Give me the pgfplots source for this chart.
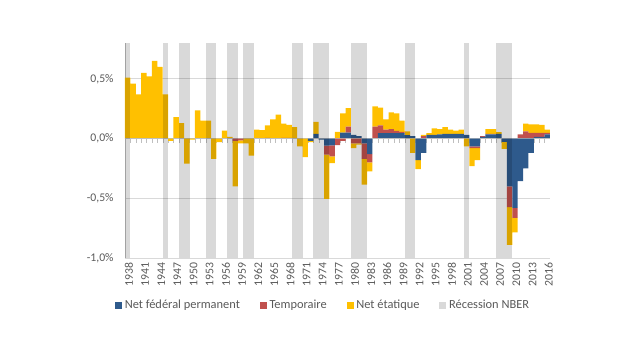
\documentclass[border=0pt]{standalone}
\usepackage{fontspec}
\setmainfont{Carlito}
\usepackage{pgfplots}
\usepackage{pgfplotstable}
\pgfplotsset{compat=1.18}
\definecolor{cblue}{HTML}{2E5A8C}
\definecolor{cred}{HTML}{C0504D}
\definecolor{cyel}{HTML}{FFC000}
\definecolor{ctext}{HTML}{595959}
\definecolor{cgrid}{HTML}{D9D9D9}
\definecolor{caxis}{HTML}{BFBFBF}

% year, positive parts (blue, red, yellow), negative parts (blue, red, yellow)
\pgfplotstableread{
year bp rp yp bn rn yn
1938 0 0 0.51 0 0 0
1939 0 0 0.46 0 0 0
1940 0 0 0.37 0 0 0
1941 0 0 0.55 0 0 0
1942 0 0 0.52 0 0 0
1943 0 0 0.65 0 0 0
1944 0 0 0.60 0 0 0
1945 0 0 0.37 0 0 0
1946 0 0 0 0 0 -0.02
1947 0 0 0.18 0 0 0
1948 0 0 0.13 0 0 0
1949 0 0 0 0 0 -0.21
1950 0 0 0 0 0 -0.01
1951 0 0 0.235 0 0 0
1952 0 0 0.15 0 0 0
1953 0 0 0.15 0 0 0
1954 0 0 0 0 0 -0.17
1955 0 0 0 0 0 -0.03
1956 0 0 0.067 0 0 0
1957 0 0 0.015 0 0 0
1958 0 0 0 0 -0.02 -0.38
1959 0 0 0 0 -0.015 -0.025
1960 0 0 0 0 0 -0.04
1961 0 0 0 0 0 -0.143
1962 0 0 0.075 0 0 0
1963 0 0 0.07 0 0 0
1964 0 0.005 0.105 0 0 0
1965 0 0 0.16 0 0 0
1966 0 0 0.20 0 0 0
1967 0 0.005 0.12 0 0 0
1968 0 0.005 0.11 0 0 0
1969 0 0 0.095 0 0 0
1970 0 0 0 0 0 -0.065
1971 0 0 0 0 0 -0.155
1972 0 0 0 -0.02 0 -0.01
1973 0.04 0 0.10 0 0 0
1974 0 0 0 -0.01 0 0
1975 0 0 0 -0.06 -0.075 -0.37
1976 0 0 0 -0.057 -0.093 -0.055
1977 0 0 0.055 0 -0.055 0
1978 0.05 0 0.16 0 -0.02 0
1979 0.05 0.05 0.155 0 0 0
1980 0.03 0 0 0 -0.04 -0.04
1981 0.02 0 0 0 -0.04 -0.01
1982 0 0 0 -0.04 -0.13 -0.215
1983 0 0 0 -0.13 -0.07 -0.075
1984 0 0.10 0.17 0 0 0
1985 0.045 0.065 0.15 0 0 0
1986 0.045 0.03 0.085 0 0 0
1987 0.045 0.035 0.14 0 0 0
1988 0.045 0.02 0.145 0 0 0
1989 0.045 0.01 0.095 0 0 0
1990 0.028 0 0.032 0 0 0
1991 0.02 0 0 0 0 -0.12
1992 0 0 0 -0.18 0 -0.075
1993 0 0.02 0.01 -0.12 0 0
1994 0.03 0 0.015 0 0 0
1995 0.03 0 0.055 0 0 0
1996 0.034 0 0.046 0 0 0
1997 0.04 0 0.055 0 0 0
1998 0.04 0 0.035 0 0 0
1999 0.04 0 0.027 0 0 0
2000 0.04 0 0.035 0 0 0
2001 0.03 0 0 0 0 -0.065
2002 0 0 0 -0.065 -0.015 -0.15
2003 0 0 0 -0.065 -0.015 -0.10
2004 0.015 0.005 0 0 0 0
2005 0.035 0.005 0.04 0 0 0
2006 0.035 0.005 0.04 0 0 0
2007 0.04 0 0.013 0 0 0
2008 0 0 0 -0.028 0 -0.058
2009 0 0 0 -0.40 -0.175 -0.315
2010 0 0 0 -0.58 -0.085 -0.12
2011 0 0.035 0 -0.357 0 0
2012 0 0.06 0.066 -0.25 0 0
2013 0 0.048 0.07 -0.12 0 0
2014 0.015 0.033 0.07 0 0 0
2015 0.015 0.033 0.067 0 0 0
2016 0.034 0.013 0.028 0 0 0
}\data

\begin{document}
\begin{tikzpicture}[font=\fontsize{8.8}{10}\selectfont, text=ctext]
\pgfplotsset{
  base/.style={scale only axis, width=318.75pt, height=161.25pt,
    xmin=1937.5, xmax=2016.5, ymin=-1, ymax=0.8},
  rec/.style={fill=black, fill opacity=0.15, draw=none, mark=none},
}
% axis 1: grid, labels, positive stack, legend
\begin{axis}[base, name=main,
  ybar stacked, bar width=1,
  axis lines*=left,
  axis line style={-, draw=caxis},
  x axis line style={draw=cgrid},
  ymajorgrids, grid style={draw=cgrid, line width=0.6pt},
  ytick={-1,-0.5,0,0.5},
  yticklabels={{-1,0\%},{-0,5\%},{0,0\%},{0,5\%}},
  ytick style={draw=none},
  yticklabel style={xshift=-5pt, text=ctext},
  xtick={1938,1941,...,2016},
  xticklabels={1938,1941,1944,1947,1950,1953,1956,1959,1962,1965,1968,1971,1974,1977,1980,1983,1986,1989,1992,1995,1998,2001,2004,2007,2010,2013,2016},
  xtick style={draw=none},
  xticklabel style={rotate=90, anchor=east, text=ctext, yshift=-1pt},
  legend columns=4,
  legend style={at={(0.467,-0.219)}, anchor=center, draw=none, fill=none,
    font=\fontsize{9.3}{10}\selectfont, text=ctext,
    /tikz/every even column/.append style={column sep=13pt}},
  legend image code/.code={\fill[#1] (0pt,-2.6pt) rectangle (5.2pt,2.6pt);},
]
\addplot[fill=cblue, draw=none] table[x=year, y=bp] {\data};
\addlegendentry{Net fédéral permanent}
\addplot[fill=cred, draw=none] table[x=year, y=rp] {\data};
\addlegendentry{Temporaire}
\addplot[fill=cyel, draw=none] table[x=year, y=yp] {\data};
\addlegendentry{Net étatique}
\addlegendimage{fill=cgrid, draw=none}
\addlegendentry{Récession NBER}
\end{axis}

% axis 2: negative stack, zero line and year ticks
\begin{axis}[base,
  ybar stacked, bar width=1,
  axis x line=middle, axis y line=none,
  x axis line style={-, draw=caxis, line width=0.6pt},
  xtick={1938.5,1939.5,...,2015.5},
  xticklabels={},
  tick align=center,
  major tick length=3pt,
  xtick style={draw=caxis, yshift=-1.5pt},
]
\addplot[fill=cblue, draw=none] table[x=year, y=bn] {\data};
\addplot[fill=cred, draw=none] table[x=year, y=rn] {\data};
\addplot[fill=cyel, draw=none] table[x=year, y=yn] {\data};
\end{axis}

% axis 3: NBER recessions overlay
\begin{axis}[base, hide axis]
\addplot[rec] coordinates {(1937.5,-1) (1937.5,0.8) (1938.5,0.8) (1938.5,-1)} -- cycle;
\addplot[rec] coordinates {(1944.5,-1) (1944.5,0.8) (1945.5,0.8) (1945.5,-1)} -- cycle;
\addplot[rec] coordinates {(1947.5,-1) (1947.5,0.8) (1949.5,0.8) (1949.5,-1)} -- cycle;
\addplot[rec] coordinates {(1952.5,-1) (1952.5,0.8) (1954.5,0.8) (1954.5,-1)} -- cycle;
\addplot[rec] coordinates {(1956.5,-1) (1956.5,0.8) (1958.5,0.8) (1958.5,-1)} -- cycle;
\addplot[rec] coordinates {(1959.5,-1) (1959.5,0.8) (1961.5,0.8) (1961.5,-1)} -- cycle;
\addplot[rec] coordinates {(1968.5,-1) (1968.5,0.8) (1970.5,0.8) (1970.5,-1)} -- cycle;
\addplot[rec] coordinates {(1972.5,-1) (1972.5,0.8) (1975.5,0.8) (1975.5,-1)} -- cycle;
\addplot[rec] coordinates {(1979.5,-1) (1979.5,0.8) (1982.5,0.8) (1982.5,-1)} -- cycle;
\addplot[rec] coordinates {(1989.5,-1) (1989.5,0.8) (1991.5,0.8) (1991.5,-1)} -- cycle;
\addplot[rec] coordinates {(2000.5,-1) (2000.5,0.8) (2001.5,0.8) (2001.5,-1)} -- cycle;
\addplot[rec] coordinates {(2006.5,-1) (2006.5,0.8) (2009.5,0.8) (2009.5,-1)} -- cycle;
\end{axis}

\path (main.south west) ++(-93.75pt,-69pt) rectangle ++(480pt,262.5pt);
\end{tikzpicture}
\end{document}
